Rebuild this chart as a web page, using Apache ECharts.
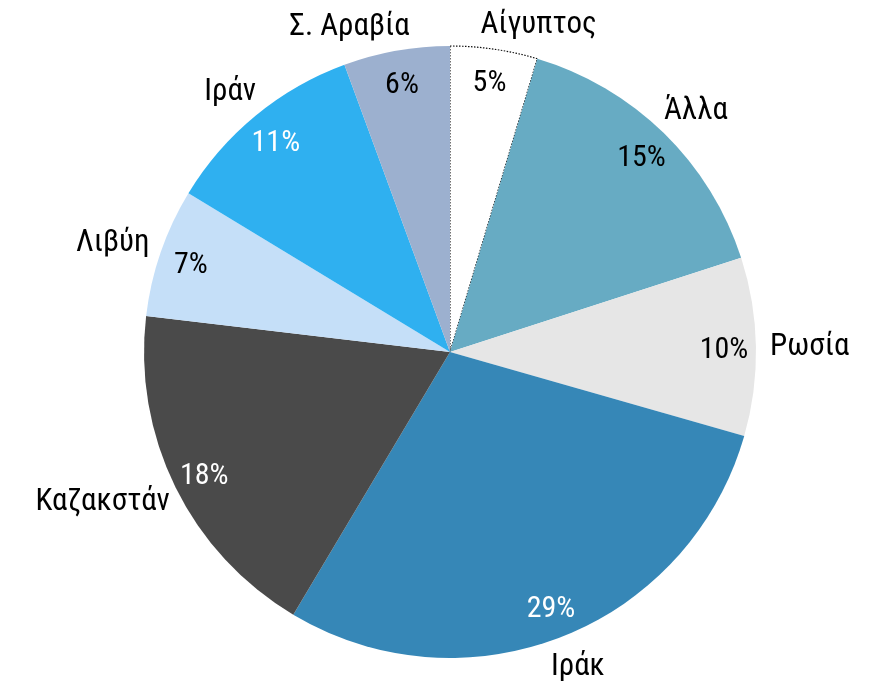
<!DOCTYPE html>
<html><head><meta charset="utf-8">
<script src="https://cdn.jsdelivr.net/npm/echarts@6/dist/echarts.min.js"></script>
<style>html,body{margin:0;padding:0;background:#fff}#c{width:869px;height:681px}</style>
</head><body><div id="c"></div>
<script>
const categories = ['Αίγυπτος','Άλλα','Ρωσία','Ιράκ','Καζακστάν','Λιβύη','Ιράν','Σ. Αραβία'];
const values = [4.6, 15.4, 9.4, 29.1, 18.3, 6.8, 10.7, 5.6];
const percentLabels = ['5%','15%','10%','29%','18%','7%','11%','6%'];
const colors = ['#ffffff','#67abc3','#e6e6e6','#3687b7','#4a4a4a','#c5dff8','#2fb0f0','#9cb0cf'];
const labelColors = ['#000','#000','#000','#fff','#fff','#000','#fff','#000'];
const FONT = '"Roboto Condensed","Liberation Sans Narrow","DejaVu Sans Condensed",Roboto,sans-serif';
const NAME_SIZE = 31, PCT_SIZE = 30;
const CX = 450, CY = 352, R = 306;
const GAP = 8;          // distance between pie edge and outside label anchor
const PAD = 6;          // horizontal padding of outside label boxes
const VPAD = 8;         // vertical padding of outside label boxes
const LABEL_SEP = 70;   // minimum horizontal separation of side-by-side labels

// Outside-end label placement along the slice mid-angle
const measure = document.createElement('canvas').getContext('2d');
measure.font = NAME_SIZE + 'px ' + FONT;
const total = values.reduce((a,b)=>a+b,0);
let acc = 0;
const labelInfo = values.map((v,i)=>{
  const mid = (acc + v/2) / total * 360; acc += v;
  return {ang: mid, w: measure.measureText(categories[i]).width, h: NAME_SIZE};
});
function place(L){
  const a = L.ang*Math.PI/180, ux = Math.sin(a), uy = -Math.cos(a);
  const px = CX + (R+GAP)*ux, py = CY + (R+GAP)*uy;
  L.x = px + ux*(L.w/2 + PAD);
  L.y = py + uy*(L.h/2 + VPAD);
}
labelInfo.forEach(place);
for (let iter=0; iter<400; iter++){
  let moved = false;
  const n = labelInfo.length;
  for (let i=0;i<n;i++){
    const A = labelInfo[i], B = labelInfo[(i+1)%n];
    const yOver = Math.abs(A.y - B.y) < (A.h + B.h)/2;
    const xGap = Math.abs(A.x - B.x) - (A.w + B.w)/2;
    if (yOver && xGap < LABEL_SEP){
      A.ang -= 0.25; B.ang += 0.25; place(A); place(B); moved = true;
    }
  }
  if (!moved) break;
}

const chart = echarts.init(document.getElementById('c'), null, {renderer:'canvas'});
const mainData = categories.map((n,i)=>({
  name:n, value:values[i],
  itemStyle: i===0 ? {color:colors[i], borderColor:'#111', borderWidth:1.2, borderType:[1.5,1.5]} : {color:colors[i]}
}));
const pctData = categories.map((n,i)=>({
  name:n, value:values[i],
  label:{formatter:percentLabels[i], color:labelColors[i]}
}));
chart.setOption({
  animation:false,
  series:[
    {
      type:'pie', center:[CX,CY], radius:[0,R], startAngle:90, clockwise:true,
      data:mainData,
      label:{show:true, position:'outside', formatter:'{b}', fontFamily:FONT, fontSize:NAME_SIZE, color:'#000', distanceToLabelLine:0},
      labelLine:{show:false, length:10, length2:0},
      labelLayout:function(p){
        const L = labelInfo[p.dataIndex];
        return {x: L.x, y: L.y + 1, align:'center', verticalAlign:'middle'};
      },
      emphasis:{disabled:true}
    },
    {
      type:'pie', center:[CX,CY], radius:[236,R], startAngle:90, clockwise:true, silent:true,
      data:pctData,
      itemStyle:{color:'rgba(0,0,0,0)'},
      label:{show:true, position:'inside', fontFamily:FONT, fontSize:PCT_SIZE},
      labelLine:{show:false},
      labelLayout:function(){ return {dy: 3}; },
      emphasis:{disabled:true}
    }
  ]
});
</script></body></html>
